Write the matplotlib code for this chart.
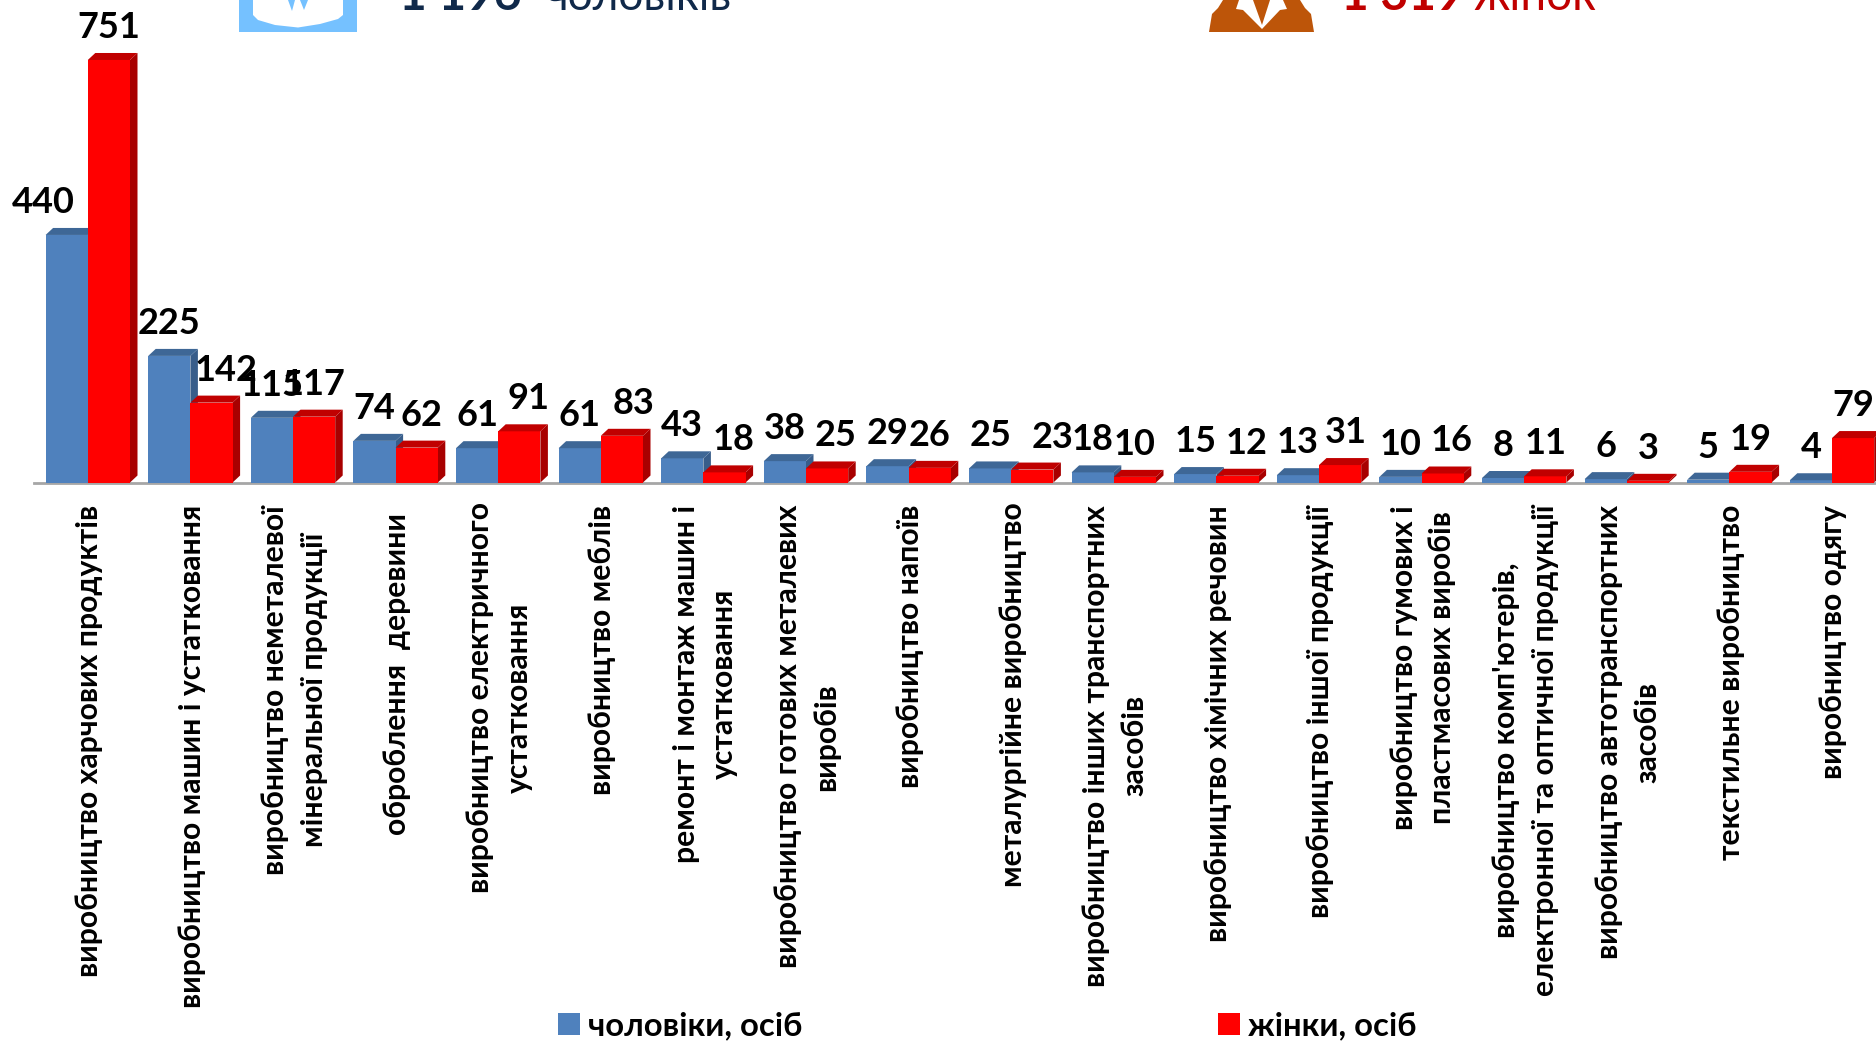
# plot.py - manufacturing jobs by gender, fake-3D columns like the source slide
import matplotlib
matplotlib.use('Agg')
import matplotlib.pyplot as plt
from matplotlib.patches import Polygon

W, H = 1876, 1041

categories = [
    'виробництво харчових продуктів',
    'виробництво машин і устатковання',
    'виробництво неметалевої\nмінеральної продукції',
    'оброблення  деревини',
    'виробництво електричного\nустатковання',
    'виробництво меблів',
    'ремонт і монтаж машин і\nустатковання',
    'виробництво готових металевих\nвиробів',
    'виробництво напоїв',
    'металургійне виробництво',
    'виробництво інших транспортних\nзасобів',
    'виробництво хімічних речовин',
    'виробництво іншої продукції',
    'виробництво гумових і\nпластмасових виробів',
    "виробництво комп'ютерів,\nелектронної та оптичної продукції",
    'виробництво автотранспортних\nзасобів',
    'текстильне виробництво',
    'виробництво одягу',
]
men = [440, 225, 115, 74, 61, 61, 43, 38, 29, 25, 18, 15, 13, 10, 8, 6, 5, 4]
women = [751, 142, 117, 62, 91, 83, 18, 25, 26, 23, 10, 12, 31, 16, 11, 3, 19, 79]

# hand nudges of the labels in the slide (pixels)
men_nudge = [-23, 0, 0, 0, 0, 0, 0, 0, 0, 0, 0, 0, 0, 0, 0, 0, 0, 0]
women_nudge = [0, 15, 0, 5, 9, 12, 9, 8, 0, 20, 0, 9, 6, 9, 0, 0, 0, 0]
label_nudge = [0, 0, 0, 8, -3, 0, 0, 0, 0, -3, 0, 0, 0, 0, 0, 0, 0, 0]

BLUE, BLUE_TOP, BLUE_SIDE = '#4F81BD', '#3E6796', '#385D8A'
RED, RED_TOP, RED_SIDE = '#FF0000', '#C00000', '#A80000'

# scales of the picture
step_px = 102.6      # one category
x0_px = 87.8         # first category (boundary between the two bars)
zero_px = 482.5      # baseline
unit_px = 0.5626     # one person
bar_w = 42.2 / step_px
depth_x = 7.5 / step_px
depth_y = 7.0 / unit_px

plt.rcParams['font.family'] = ['Lato', 'Noto Sans']

fig = plt.figure(figsize=(W / 100, H / 100), dpi=100)
ax = fig.add_axes([0, 0, 1, 1])
ax.set_xlim(-x0_px / step_px, (W - x0_px) / step_px)
ax.set_ylim(-(H - zero_px) / unit_px, zero_px / unit_px)
ax.axis('off')


def px(x, y):
    # picture pixels (origin top left) to figure fractions
    return x / W, 1 - y / H


def draw_box(left, value, front, top, side, z):
    right = left + bar_w
    b = ax.bar(left, value, bar_w, align='edge', color=front, linewidth=0, zorder=z + 1)
    ax.add_patch(Polygon([(right, 0), (right + depth_x, depth_y),
                          (right + depth_x, value + depth_y), (right, value)],
                         facecolor=side, edgecolor='none', zorder=z))
    ax.add_patch(Polygon([(left, value), (right, value),
                          (right + depth_x, value + depth_y), (left + depth_x, value + depth_y)],
                         facecolor=top, edgecolor='none', zorder=z + 2))
    return b


ax.axhline(-1, xmin=34 / W, xmax=1, color='#A6A6A6', linewidth=2, zorder=1)

for i, (m, f) in enumerate(zip(men, women)):
    men_bar = draw_box(i - bar_w, m, BLUE, BLUE_TOP, BLUE_SIDE, 2)
    women_bar = draw_box(i, f, RED, RED_TOP, RED_SIDE, 5)

    ax.annotate(str(m), (i - bar_w / 2, m), xytext=(men_nudge[i] * 0.72, 22 * 0.72),
                textcoords='offset points', ha='center', va='baseline',
                fontsize=26, fontweight='bold', color='black', zorder=10)
    ax.annotate(str(f), (i + bar_w / 2, f), xytext=(women_nudge[i] * 0.72, 22 * 0.72),
                textcoords='offset points', ha='center', va='baseline',
                fontsize=26, fontweight='bold', color='black', zorder=10)

    ax.text(i + 0.013, -(505 + label_nudge[i] - zero_px) / unit_px, categories[i], rotation=90,
            ha='center', va='top', multialignment='center', linespacing=1.45,
            fontsize=21.7, fontweight='bold', color='black')

ax.legend([men_bar, women_bar], ['чоловіки, осіб', 'жінки, осіб'], ncol=2,
          loc='center left', bbox_to_anchor=(558 / W, 1 - 1026 / H), frameon=False,
          prop={'size': 23.6, 'weight': 'bold'}, handlelength=0.67, handleheight=0.67,
          handletextpad=0.24, columnspacing=12.7, borderpad=0, borderaxespad=0)

# header, mostly cut off by the top of the picture
for x, txt, col, weight, size in [(399, '1 196', '#10294A', 'bold', 34.4),
                                  (545, 'чоловіків', '#10294A', 'normal', 31.7),
                                  (1341, '1 319', '#C00000', 'bold', 34.5),
                                  (1473, 'жінок', '#C00000', 'normal', 33)]:
    xf, yf = px(x, 10)
    fig.text(xf, yf, txt, color=col, fontweight=weight, fontsize=size, ha='left', va='baseline')


def icon(points, color):
    fig.patches.append(Polygon([px(*p) for p in points], closed=True, facecolor=color,
                               edgecolor='none', transform=fig.transFigure))


# man icon
icon([(239, 0), (357, 0), (357, 32), (239, 32)], '#75C1FF')
icon([(253, 0), (343, 0), (343, 15), (338, 19), (320, 24), (298, 27.5),
      (275, 25), (258, 20), (253, 15)], 'white')
icon([(288, 0), (295, 0), (292, 11)], '#75C1FF')
icon([(300, 0), (308, 0), (304, 10)], '#75C1FF')

# woman icon
icon([(1223, 0), (1300, 0), (1305, 8), (1311, 14), (1314, 32), (1209, 32),
      (1212, 14), (1218, 8)], '#BD5509')
icon([(1239, 0), (1253, 0), (1262, 25), (1270, 0), (1283, 0), (1287, 9), (1280, 10),
      (1262, 29), (1243, 10), (1236, 9)], 'white')

fig.savefig('out.png', dpi=100)
